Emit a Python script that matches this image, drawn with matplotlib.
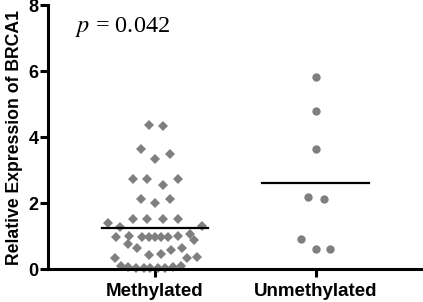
import matplotlib.pyplot as plt

# dados
categorias = ["Methylated", "Unmethylated"]

metilado = [4.36, 4.33,
            3.64, 3.33, 3.48,
            2.73, 2.73, 2.55, 2.73,
            2.12, 2.00, 2.12,
            1.52, 1.52, 1.52, 1.52,
            1.39, 1.27, 1.30,
            0.97, 1.00, 0.98, 0.98, 0.98, 0.98, 0.98, 1.00, 1.06, 0.88,
            0.76,
            0.64, 0.42, 0.45, 0.57, 0.64,
            0.33, 0.33, 0.38,
            0.10, 0.07, 0.04, 0.03, 0.02, 0.03, 0.04, 0.07, 0.10]
# deslocamento horizontal (espalhamento) de cada ponto
metilado_dx = [-0.04, 0.05,
               -0.09, 0.00, 0.09,
               -0.14, -0.05, 0.05, 0.14,
               -0.09, 0.00, 0.09,
               -0.14, -0.05, 0.05, 0.14,
               -0.29, -0.22, 0.29,
               -0.24, -0.16, -0.08, -0.04, 0.00, 0.04, 0.08, 0.14, 0.22, 0.24,
               -0.17,
               -0.11, -0.04, 0.04, 0.10, 0.17,
               -0.25, 0.20, 0.26,
               -0.21, -0.17, -0.12, -0.07, -0.03, 0.02, 0.06, 0.11, 0.16]

nao_metilado = [5.82, 4.79, 3.65, 2.18, 2.13, 0.90, 0.60, 0.60]
nao_metilado_dx = [0.0, 0.0, 0.0, -0.05, 0.05, -0.09, 0.0, 0.09]

media_met = 1.24
media_nao = 2.60

cinza = "#7f7f7f"

fig = plt.figure(figsize=(4.23, 3.02), dpi=100)
ax = fig.add_axes([0.1135, 0.109, 0.8865, 0.874])

ax.plot([1 + d for d in metilado_dx], metilado, "D", color=cinza,
        markersize=5.2, markeredgewidth=0, clip_on=False)
ax.plot([2 + d for d in nao_metilado_dx], nao_metilado, "o", color=cinza,
        markersize=6, markeredgewidth=0, clip_on=False)

# linhas das medias
ax.plot([0.67, 1.33], [media_met, media_met], color="black", lw=1.6)
ax.plot([1.665, 2.33], [media_nao, media_nao], color="black", lw=1.6)

ax.set_xlim(0.335, 2.665)
ax.set_ylim(0, 8)
ax.set_yticks([0, 2, 4, 6, 8])
ax.set_xticks([1, 2])
ax.set_xticklabels(categorias, fontsize=13.5, fontweight="bold",
                   family="Liberation Sans")
for lab in ax.get_yticklabels():
    lab.set_fontsize(13)
    lab.set_fontweight("bold")
    lab.set_family("Liberation Sans")

ax.spines["top"].set_visible(False)
ax.spines["right"].set_visible(False)
ax.spines["left"].set_linewidth(2.2)
ax.spines["bottom"].set_linewidth(2.2)
ax.tick_params(axis="y", length=6, width=2.2, pad=1)
ax.tick_params(axis="x", length=6, width=2.2, pad=4)

ax.set_ylabel("Relative Expression of BRCA1", fontsize=12.7, fontweight="bold",
              family="Liberation Sans", labelpad=4)

plt.rcParams["mathtext.fontset"] = "stix"
ax.text(0.50, 7.33, r"$p$ = 0.042", fontsize=17.5, family="Liberation Serif",
        va="center")

plt.savefig("out.png", dpi=100)
